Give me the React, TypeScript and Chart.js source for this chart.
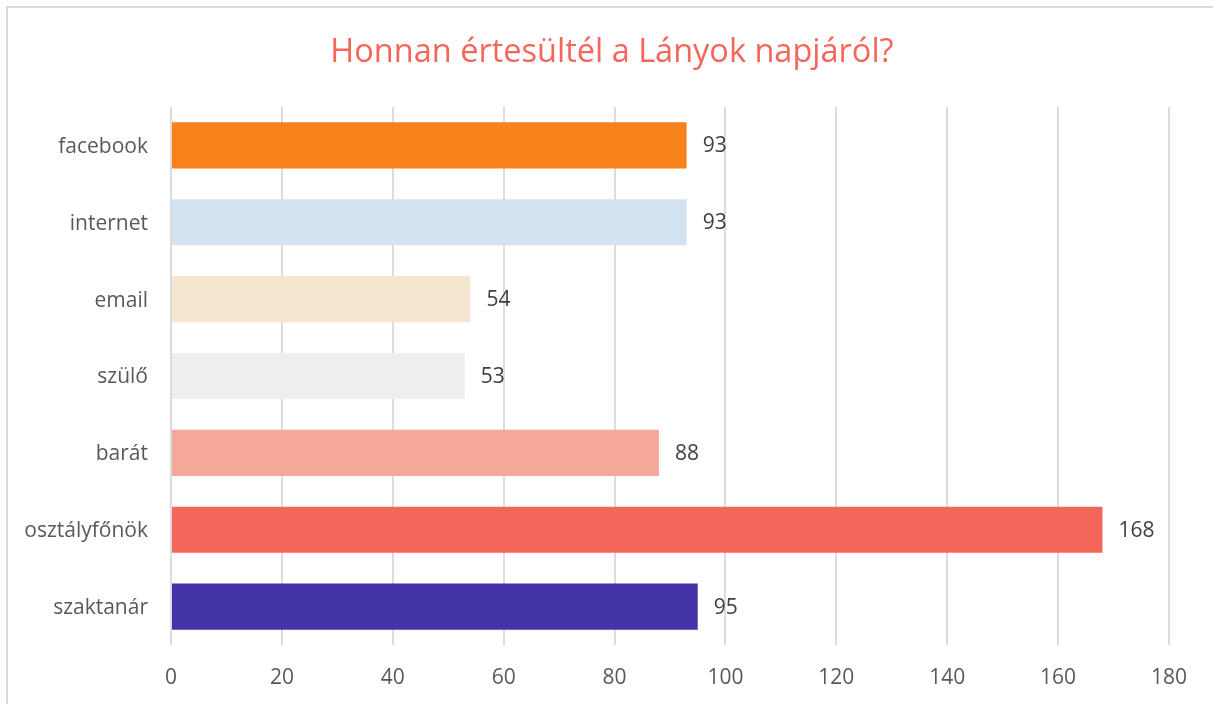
import React, { useEffect, useRef } from "react";
import { Chart, registerables } from "chart.js";

Chart.register(...registerables);

const TITLE = "Honnan értesültél a Lányok napjáról?";
const categories = ["facebook", "internet", "email", "szülő", "barát", "osztályfőnök", "szaktanár"];
const values = [93, 93, 54, 53, 88, 168, 95];
const barColors = ["#F7821B", "#D4E3F2", "#F5E6D0", "#EEEEEE", "#F5A79A", "#F5665A", "#4233A6"];
const xTicks = [0, 20, 40, 60, 80, 100, 120, 140, 160, 180];

const FONT = "'Open Sans', 'Noto Sans', sans-serif";

const valueLabels = {
  id: "valueLabels",
  afterDatasetsDraw(chart: any) {
    const ctx = chart.ctx;
    const meta = chart.getDatasetMeta(0);
    const yScale = chart.scales.y;
    ctx.save();
    ctx.font = `21px ${FONT}`;
    ctx.textBaseline = "middle";
    ctx.fillStyle = "#404040";
    ctx.textAlign = "left";
    meta.data.forEach((bar: any, i: number) => {
      ctx.fillText(String(values[i]), bar.x + 16, bar.y + 1);
    });
    ctx.fillStyle = "#595959";
    ctx.textAlign = "right";
    categories.forEach((c, i) => {
      ctx.fillText(c, chart.chartArea.left - 23, yScale.getPixelForValue(i) + 1.5);
    });
    ctx.restore();
  },
};

const titleDraw = {
  id: "titleDraw",
  afterDraw(chart: any) {
    const ctx = chart.ctx;
    ctx.save();
    ctx.font = `32.5px ${FONT}`;
    ctx.fillStyle = "#F4665A";
    ctx.textAlign = "center";
    ctx.textBaseline = "middle";
    ctx.fillText(TITLE, 612, 53);
    ctx.restore();
  },
};

export default function App() {
  const ref = useRef<HTMLCanvasElement | null>(null);
  useEffect(() => {
    if (!ref.current) return;
    const chart = new Chart(ref.current, {
      type: "bar",
      data: {
        labels: categories,
        datasets: [
          {
            data: values,
            backgroundColor: barColors,
            barPercentage: 0.6,
            categoryPercentage: 1,
          },
        ],
      },
      options: {
        indexAxis: "y",
        animation: false,
        responsive: false,
        maintainAspectRatio: false,
        layout: { padding: { left: 0, right: 44, top: 107, bottom: 0 } },
        plugins: {
          legend: { display: false },
          tooltip: { enabled: false },
          title: { display: false },
        },
        scales: {
          x: {
            min: 0,
            max: 180,
            afterBuildTicks: (scale: any) => {
              scale.ticks = xTicks.map((v) => ({ value: v }));
            },
            afterFit: (scale: any) => {
              scale.height = 59;
            },
            grid: { color: "#DCDCDC", lineWidth: 2, drawTicks: false },
            border: { display: false },
            ticks: {
              color: "#595959",
              font: { family: FONT, size: 21 },
              padding: 20,
            },
          },
          y: {
            afterFit: (scale: any) => {
              scale.width = 171;
            },
            grid: { display: false, drawTicks: false },
            border: { display: false },
            ticks: { display: false },
          },
        },
      },
      plugins: [valueLabels, titleDraw],
    } as any);
    return () => chart.destroy();
  }, []);

  return (
    <div style={{ position: "fixed", left: 0, top: 0, width: 1213, height: 704, background: "#fff", overflow: "hidden" }}>
      <div
        style={{
          position: "absolute",
          left: 6,
          top: 6,
          width: 1400,
          height: 900,
          border: "2px solid #D9D9D9",
          boxSizing: "border-box",
        }}
      />
      <canvas ref={ref} width={1213} height={704} style={{ position: "absolute", left: 0, top: 0 }} />
    </div>
  );
}
